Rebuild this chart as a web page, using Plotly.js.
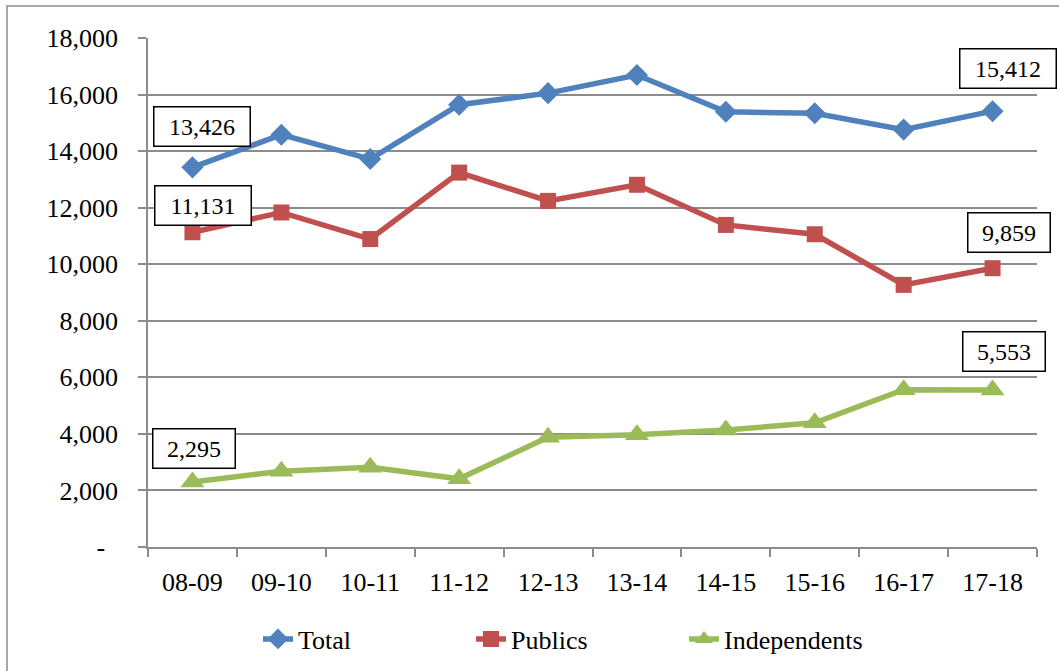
<!DOCTYPE html>
<html>
<head>
<meta charset="utf-8">
<script src="https://cdn.plot.ly/plotly-3.0.1.min.js"></script>
<style>
  html, body { margin: 0; padding: 0; background: #fff; }
  #chart { width: 1059px; height: 671px; }
</style>
</head>
<body>
<div id="chart"></div>
<script>
// ---- data ----
var categories = ["08-09", "09-10", "10-11", "11-12", "12-13", "13-14", "14-15", "15-16", "16-17", "17-18"];
var totalValues = [13426, 14580, 13720, 15640, 16050, 16690, 15390, 15340, 14760, 15412];
var publicsValues = [11131, 11830, 10890, 13240, 12240, 12810, 11390, 11060, 9270, 9859];
var independentsValues = [2295, 2680, 2820, 2410, 3880, 3970, 4140, 4390, 5560, 5553];
var seriesNames = ["Total", "Publics", "Independents"];
var yTickValues = [0, 2000, 4000, 6000, 8000, 10000, 12000, 14000, 16000, 18000];
var yTickLabels = ["-\u00a0\u00a0", "2,000", "4,000", "6,000", "8,000", "10,000", "12,000", "14,000", "16,000", "18,000"];

// ---- styling ----
var FONT = "Liberation Serif";
var GRID = "#8c8c8c";
var styles = [
  {color: "#4F81BD", symbol: "diamond", size: 17},
  {color: "#C0504D", symbol: "square", size: 16},
  {color: "#9BBB59", symbol: "triangle-up", size: 21}
];
var seriesValues = [totalValues, publicsValues, independentsValues];

var traces = seriesValues.map(function (vals, i) {
  return {
    type: "scatter",
    mode: "lines+markers",
    name: seriesNames[i],
    x: categories,
    y: vals,
    line: {color: styles[i].color, width: 5.5},
    marker: {color: styles[i].color, symbol: styles[i].symbol, size: styles[i].size},
    hoverinfo: "x+y+name"
  };
});

// label boxes at first and last point of each series (offsets in pixels)
var labelOffsets = [
  [{xs: 10, ys: 41}, {xs: 15, ys: 43}],
  [{xs: 11, ys: 27}, {xs: 16, ys: 36}],
  [{xs: 2, ys: 34}, {xs: 11, ys: 38}]
];
var annotations = [];
seriesValues.forEach(function (vals, i) {
  [0, vals.length - 1].forEach(function (idx, k) {
    var txt = vals[idx].toLocaleString("en-US");
    annotations.push({
      x: categories[idx], y: vals[idx], xref: "x", yref: "y",
      text: txt, showarrow: false,
      xshift: labelOffsets[i][k].xs, yshift: labelOffsets[i][k].ys,
      font: {family: FONT, size: 24, color: "#000"},
      bgcolor: "#ffffff", bordercolor: "#000000", borderwidth: 1.5, borderpad: 3,
      width: txt.length >= 6 ? 89 : 75, height: 32, align: "center", valign: "middle"
    });
  });
});

var plotL = 148, plotR = 1037, plotT = 38, plotB = 547;
var pw = plotR - plotL, ph = plotB - plotT;

var layout = {
  width: 1059, height: 671,
  margin: {l: plotL, r: 1059 - plotR, t: plotT, b: 671 - plotB, autoexpand: false},
  paper_bgcolor: "#ffffff", plot_bgcolor: "#ffffff",
  font: {family: FONT, size: 26, color: "#000"},
  showlegend: true,
  legend: {
    orientation: "h", x: (258 - plotL) / pw, xanchor: "left",
    y: (plotB - 639) / ph, yanchor: "middle",
    entrywidth: 168, entrywidthmode: "pixels",
    font: {family: FONT, size: 26, color: "#000"},
    bgcolor: "rgba(0,0,0,0)"
  },
  xaxis: {
    type: "category", range: [-0.5, 9.5],
    tickson: "boundaries", ticks: "outside", ticklen: 8, tickwidth: 1.5, tickcolor: GRID,
    showline: true, linecolor: GRID, linewidth: 1.5,
    showgrid: false, zeroline: false,
    tickfont: {family: FONT, size: 26, color: "#000"},
    ticklabelstandoff: 11
  },
  yaxis: {
    range: [0, 18000], tickvals: yTickValues, ticktext: yTickLabels,
    ticks: "outside", ticklen: 8, tickwidth: 1.5, tickcolor: GRID,
    showline: true, linecolor: GRID, linewidth: 1.5,
    showgrid: true, gridcolor: GRID, gridwidth: 1.5, zeroline: false,
    tickfont: {family: FONT, size: 26, color: "#000"},
    ticklabelstandoff: 15
  },
  annotations: annotations,
  shapes: [{
    type: "rect", xref: "paper", yref: "paper", layer: "below",
    x0: (7 - plotL) / pw, x1: (1075 - plotL) / pw,
    y0: (plotB - 690) / ph, y1: (plotB - 6) / ph,
    line: {color: GRID, width: 1.5}, fillcolor: "rgba(0,0,0,0)"
  }]
};

Plotly.newPlot("chart", traces, layout, {displayModeBar: false});
</script>
</body>
</html>
